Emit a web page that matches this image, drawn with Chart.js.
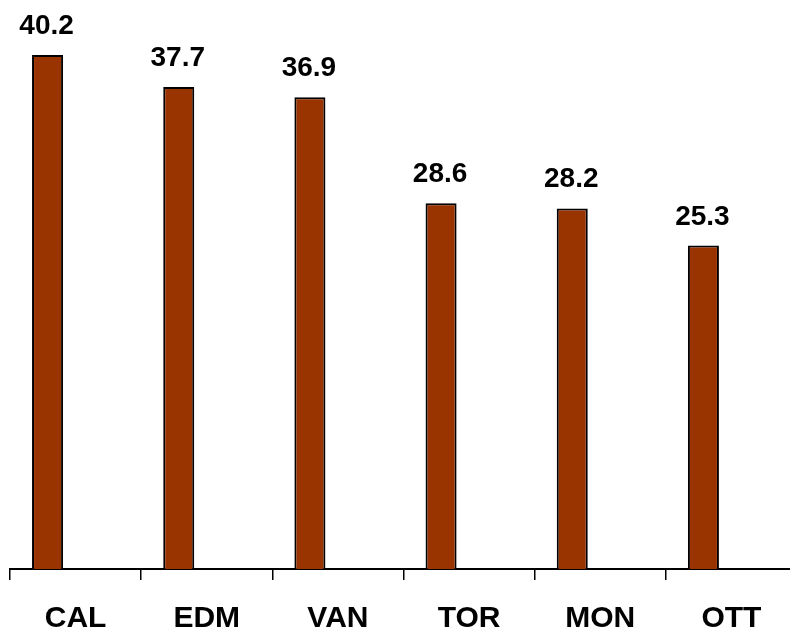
<!DOCTYPE html>
<html>
<head>
<meta charset="utf-8">
<script src="https://cdn.jsdelivr.net/npm/chart.js@4"></script>
<style>
  html, body { margin: 0; padding: 0; overflow: hidden; background: #fff; }
  canvas { display: block; }
</style>
</head>
<body>
<canvas id="myChart" width="800" height="632"></canvas>
<script>
const cities = ["CAL", "EDM", "VAN", "TOR", "MON", "OTT"];
const values = [40.2, 37.7, 36.9, 28.6, 28.2, 25.3];
const emptySeries = [null, null, null, null, null, null];

const fontFamily = "'Liberation Sans', Arial, sans-serif";

// value labels above the first series bars
const barLabels = {
  id: "barLabels",
  afterDatasetsDraw(chart) {
    const c = chart.ctx;
    const meta = chart.getDatasetMeta(0);
    c.save();
    c.font = "bold 28px " + fontFamily;
    c.fillStyle = "#000";
    c.textAlign = "center";
    c.textBaseline = "alphabetic";
    meta.data.forEach((bar, i) => {
      c.fillText(values[i].toFixed(1), bar.x - 1, bar.y - 21);
    });
    c.restore();
  },
};

const ctx = document.querySelector("#myChart");

new Chart(ctx, {
  type: "bar",
  data: {
    labels: cities,
    datasets: [
      {
        data: values,
        backgroundColor: "#993300",
        borderColor: "#000000",
        borderWidth: 2,
        barPercentage: 0.554,
        categoryPercentage: 0.854,
      },
      {
        data: emptySeries,
        barPercentage: 0.554,
        categoryPercentage: 0.854,
      },
    ],
  },
  options: {
    responsive: false,
    animation: false,
    layout: {
      padding: { left: 10, right: 3, top: 0, bottom: 0 },
    },
    scales: {
      y: {
        display: false,
        min: 0,
        max: 44.5,
      },
      x: {
        offset: true,
        border: { display: true, color: "#000", width: 2 },
        grid: {
          offset: true,
          drawOnChartArea: false,
          drawTicks: true,
          tickLength: 11,
          color: "#000",
          lineWidth: 1.5,
        },
        ticks: {
          color: "#000",
          padding: 21,
          maxRotation: 0,
          font: { family: fontFamily, size: 30, weight: "bold" },
        },
        afterFit(scale) {
          scale.height = 63;
        },
      },
    },
    plugins: {
      legend: { display: false },
      tooltip: { enabled: false },
    },
  },
  plugins: [barLabels],
});
</script>
</body>
</html>
